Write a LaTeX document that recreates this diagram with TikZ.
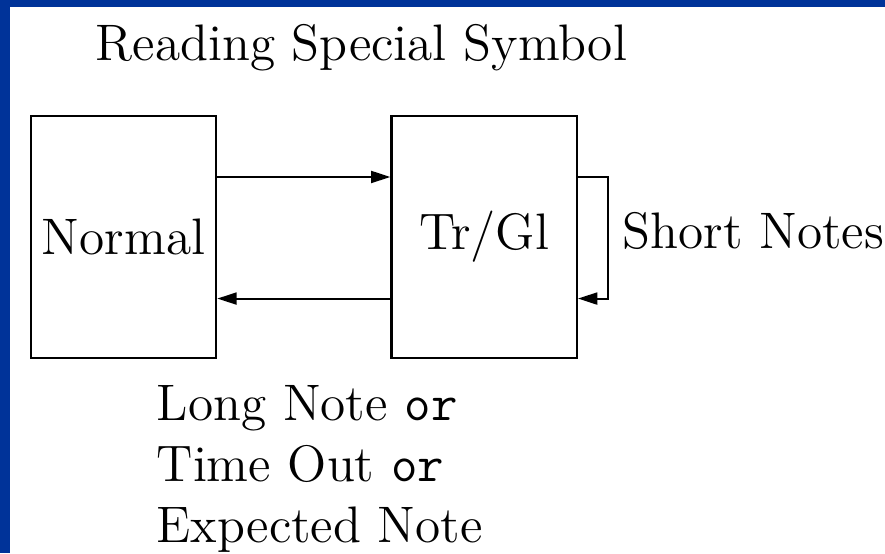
\documentclass[tikz,border=0pt]{standalone}
\usepackage{tikz}
\usetikzlibrary{arrows.meta,positioning}
\definecolor{slideblue}{RGB}{0,51,153}

\begin{document}
\begin{tikzpicture}[x=0.01cm,y=0.01cm,>={Triangle[length=5.5pt,width=3.4pt]},
  every node/.style={font=\fontsize{14.6}{17.3}\selectfont},
  statebox/.style={draw,line width=0.7pt,minimum width=1.85cm,minimum height=2.42cm,inner sep=0pt},
  txt/.style={inner sep=0pt}]
  \useasboundingbox (0,0) rectangle (885,-553);
  \fill[slideblue] (0,0) rectangle (885,-553);
  \fill[white] (10,-7) rectangle (885,-553);
  \node[txt,anchor=base west] (title) at (95,-60) {Reading Special Symbol};
  \node[statebox] (normal) at (123.5,-237) {Normal};
  \node[statebox,right=1.73cm of normal] (trgl) {Tr/Gl};
  \draw[->,line width=0.6pt] ([yshift=0.6cm]normal.east) -- ([yshift=0.6cm]trgl.west);
  \draw[->,line width=0.6pt] ([yshift=-0.615cm]trgl.west) -- ([yshift=-0.615cm]normal.east);
  \draw[->,line width=0.6pt] ([yshift=0.6cm]trgl.east) -- ++(30,0) |- ([yshift=-0.615cm]trgl.east);
  \node[txt,anchor=base west] (short) at (622,-248) {Short Notes};
  \node[txt,anchor=north west,align=left] (back) at (156,-385) {Long Note \texttt{or}\\Time Out \texttt{or}\\Expected Note};
\end{tikzpicture}
\end{document}
